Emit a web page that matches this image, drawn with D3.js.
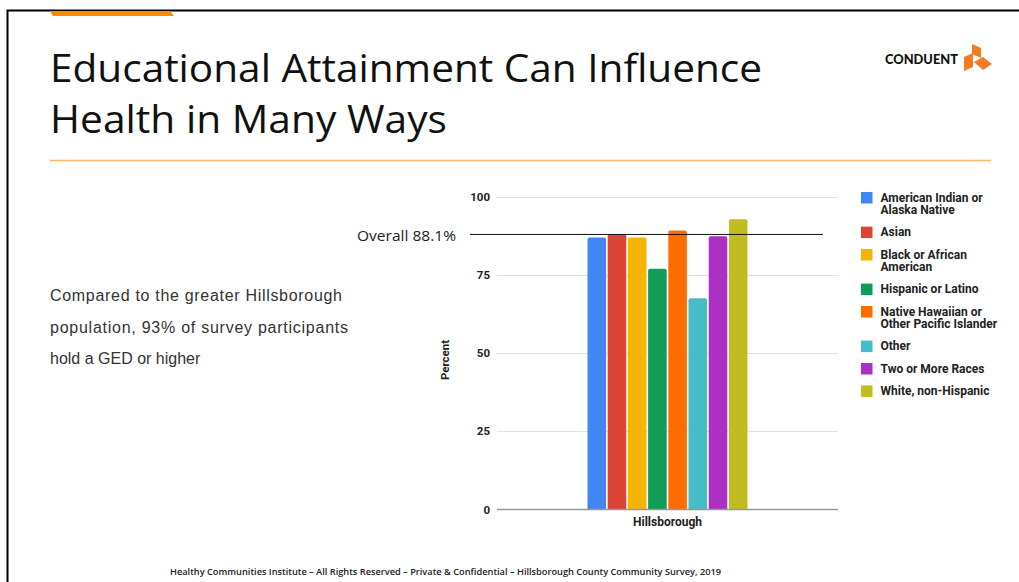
<!DOCTYPE html>
<html lang="en">
<head>
  <meta charset="UTF-8">
  <title>Educational Attainment Can Influence Health in Many Ways</title>
  <style>
    body { margin: 0; background: #fff; }
    svg { display: block; }
    .tick-label { font-family: Roboto, Arial; font-size: 11.5px; font-weight: bold; fill: #222; }
    .legend text { font-family: Roboto, Arial; font-size: 12px; font-weight: bold; fill: #222; }
  </style>
</head>
<body>
  <svg width="1019" height="582"></svg>
  <script src="https://d3js.org/d3.v7.min.js"></script>
  <script>
    const categories = ["Hillsborough"];
    const races = [
      "American Indian or Alaska Native",
      "Asian",
      "Black or African American",
      "Hispanic or Latino",
      "Native Hawaiian or Other Pacific Islander",
      "Other",
      "Two or More Races",
      "White, non-Hispanic"
    ];
    const legendLines = [
      ["American Indian or", "Alaska Native"],
      ["Asian"],
      ["Black or African", "American"],
      ["Hispanic or Latino"],
      ["Native Hawaiian or", "Other Pacific Islander"],
      ["Other"],
      ["Two or More Races"],
      ["White, non-Hispanic"]
    ];
    const values = [87.1, 88.2, 87.1, 77.1, 89.4, 67.7, 87.5, 93.0];
    const overall = 88.1;
    const yTicks = [0, 25, 50, 75, 100];
    const colors = ["#4285f4", "#db4437", "#f4b400", "#0f9d58", "#ff6d00", "#46bdc6", "#ab30c4", "#c0bc22"];

    const svg = d3.select("svg");

    // slide frame + decorations
    svg.append("path").attr("d", "M7.5,582 V10.5 H1019").attr("fill", "none").attr("stroke", "#000").attr("stroke-width", 2);
    svg.append("polygon").attr("points", "50,11 170,11 174,16 53,16").attr("fill", "#ff8a00");
    svg.append("line").attr("x1", 50).attr("x2", 991).attr("y1", 160.5).attr("y2", 160.5)
      .attr("stroke", "#fbb56a").attr("stroke-width", 1.5);

    const titleFont = "'Open Sans', 'Noto Sans', sans-serif";
    svg.append("text").attr("x", 50).attr("y", 82).attr("font-family", titleFont).attr("font-size", 39)
      .attr("fill", "#111").attr("textLength", 712).attr("lengthAdjust", "spacingAndGlyphs")
      .text("Educational Attainment Can Influence");
    svg.append("text").attr("x", 50).attr("y", 133).attr("font-family", titleFont).attr("font-size", 39)
      .attr("fill", "#111").attr("textLength", 397).attr("lengthAdjust", "spacingAndGlyphs")
      .text("Health in Many Ways");

    // logo
    svg.append("text").attr("x", 885).attr("y", 64).attr("font-family", "Lato, Arial").attr("font-weight", 900)
      .attr("font-size", 12.5).attr("fill", "#111").attr("textLength", 73).attr("lengthAdjust", "spacingAndGlyphs")
      .text("CONDUENT");
    const logo = svg.append("g").attr("fill", "#f47b20");
    logo.append("polygon").attr("points", "972,44 981,48 981,58 972,54");
    logo.append("polygon").attr("points", "964,57 973,53 973,67 964,71");
    logo.append("polygon").attr("points", "974,62 983,57 992,64 983,70");

    // paragraph
    const para = ["Compared to the greater Hillsborough", "population, 93% of survey participants", "hold a GED or higher"];
    const paraLen = [292, 298, null];
    para.forEach((t, i) => {
      const el = svg.append("text").attr("x", 50).attr("y", 301 + i * 31.5)
        .attr("font-family", "'Liberation Sans', Arial").attr("font-size", 16).attr("fill", "#333").text(t);
      if (paraLen[i]) el.attr("textLength", paraLen[i]).attr("lengthAdjust", "spacing");
    });

    // footer
    svg.append("text").attr("x", 170).attr("y", 575).attr("font-family", "'Open Sans', sans-serif")
      .attr("font-size", 8.5).attr("font-weight", 600).attr("fill", "#222")
      .attr("textLength", 551).attr("lengthAdjust", "spacingAndGlyphs")
      .text("Healthy Communities Institute \u2013 All Rights Reserved \u2013 Private & Confidential \u2013 Hillsborough County Community Survey, 2019");

    // chart
    const plotLeft = 497, plotRight = 838;
    const y = d3.scaleLinear().domain([0, 100]).range([509.5, 197.3]);
    const x0 = d3.scaleBand().domain(categories).range([plotLeft, plotRight]).paddingInner(0).paddingOuter(0.5656);
    const x1 = d3.scaleBand().domain(races).range([0, x0.bandwidth()]).paddingInner(0.08);
    const color = d3.scaleOrdinal().domain(races).range(colors);

    svg.append("g").selectAll("line").data(yTicks.filter(d => d > 0)).join("line")
      .attr("x1", plotLeft).attr("x2", plotRight)
      .attr("y1", d => Math.round(y(d)) + 0.5).attr("y2", d => Math.round(y(d)) + 0.5)
      .attr("stroke", "#e2e2e2").attr("stroke-width", 1);

    svg.append("g").selectAll("text").data(yTicks).join("text")
      .attr("class", "tick-label").attr("x", 490).attr("y", d => y(d) + 4)
      .attr("text-anchor", "end").text(d => d);

    const group = svg.append("g").selectAll("g").data(categories).join("g")
      .attr("transform", d => `translate(${x0(d)},0)`);
    group.selectAll("path").data(races.map((r, i) => ({ race: r, value: values[i] }))).join("path")
      .attr("fill", d => color(d.race))
      .attr("d", d => {
        const bx = x1(d.race), w = x1.bandwidth(), top = y(d.value), bot = y(0), r = 2;
        return `M${bx},${bot} V${top + r} Q${bx},${top} ${bx + r},${top} H${bx + w - r} Q${bx + w},${top} ${bx + w},${top + r} V${bot} Z`;
      });

    svg.append("line").attr("x1", plotLeft).attr("x2", plotRight)
      .attr("y1", y(0)).attr("y2", y(0)).attr("stroke", "#999").attr("stroke-width", 1.5);

    svg.append("text").attr("class", "tick-label").attr("x", x0("Hillsborough") + x0.bandwidth() / 2)
      .attr("y", 526).attr("text-anchor", "middle").style("font-size", "12px").text("Hillsborough");
    svg.append("text").attr("class", "tick-label").attr("transform", "translate(449,360) rotate(-90)")
      .attr("text-anchor", "middle").text("Percent");

    // overall reference line
    svg.append("line").attr("x1", 470).attr("x2", 823).attr("y1", y(overall)).attr("y2", y(overall))
      .attr("stroke", "#111").attr("stroke-width", 1);
    svg.append("text").attr("x", 456).attr("y", 241).attr("text-anchor", "end")
      .attr("font-family", "'Open Sans', sans-serif").attr("font-size", 14).attr("fill", "#222")
      .attr("textLength", 99).attr("lengthAdjust", "spacingAndGlyphs").text(`Overall ${overall}%`);

    // legend
    const legend = svg.append("g").attr("class", "legend");
    let ly = 192;
    races.forEach((r, i) => {
      const g = legend.append("g").attr("transform", `translate(861,${ly})`);
      g.append("rect").attr("width", 11.5).attr("height", 11.5).attr("fill", color(r));
      legendLines[i].forEach((t, j) => {
        g.append("text").attr("x", 19.5).attr("y", 9.5 + j * 12).text(t);
      });
      ly += 22.4 + (legendLines[i].length - 1) * 12.2;
    });
  </script>
</body>
</html>
